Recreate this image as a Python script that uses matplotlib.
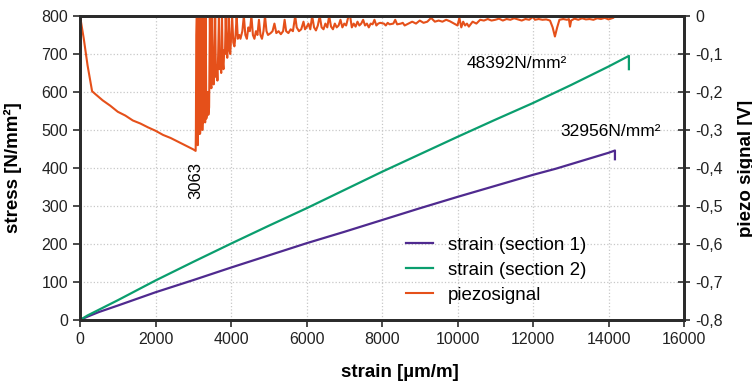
import matplotlib
matplotlib.use("Agg")
import matplotlib.pyplot as plt

plt.rcParams['font.family'] = ['Liberation Sans', 'DejaVu Sans']

# stress curves (strain in µm/m, stress in N/mm²)
strain_s1 = [0, 200, 500, 1000, 2000, 3000, 4000, 5000, 6000, 7000, 8000, 9000,
             10000, 11000, 12000, 12600, 13000, 14000, 14170, 14170]
stress_s1 = [0, 9, 21, 38, 73, 105, 138, 170, 202, 232, 263, 294,
             324, 353, 382, 398, 410, 440, 446, 423]

strain_s2 = [0, 200, 500, 1000, 2000, 3000, 4000, 5000, 6000, 7000, 8000, 9000,
             10000, 11000, 12000, 13000, 14000, 14540, 14540]
stress_s2 = [0, 12, 27, 52, 104, 153, 201, 248, 294, 342, 390, 436,
             482, 527, 571, 618, 667, 695, 660]

# piezo signal (V)
strain_pz = [0, 100, 200, 270, 320, 400, 600, 800, 1000, 1200, 1400, 1600, 1800,
             2000, 2200, 2400, 2600, 2800, 2900, 3000, 3063,
             3070, 3080, 3090, 3100, 3110, 3120, 3135, 3150, 3165, 3180, 3195, 3210,
             3225, 3240, 3255, 3270, 3285, 3300, 3315, 3330, 3345, 3360, 3380, 3400,
             3420, 3440, 3460, 3480, 3500, 3520, 3540, 3560, 3580, 3600, 3620, 3640,
             3660, 3680, 3700, 3720, 3740, 3760, 3780, 3800, 3820, 3840, 3860, 3880,
             3900, 3920, 3940, 3960, 3980, 4000, 4030, 4060, 4090, 4120, 4150, 4180,
             4220, 4250, 4300, 4340, 4380, 4420, 4460, 4500, 4540, 4580, 4620, 4660,
             4700, 4740, 4780, 4820, 4860, 4900, 4940, 4980, 5050, 5100, 5150, 5200,
             5260, 5320, 5380, 5420, 5460, 5520, 5580, 5640, 5700, 5740, 5800, 5860,
             5920, 5960, 6000, 6050, 6100, 6150, 6200, 6250, 6300, 6350, 6400, 6450,
             6500, 6550, 6600, 6650, 6700, 6750, 6800, 6850, 6900, 6950, 7000, 7050,
             7100, 7150, 7200, 7250, 7300, 7350, 7400, 7450, 7500, 7550, 7600, 7650,
             7700, 7750, 7800, 7850, 7900, 7950, 8050, 8100, 8150, 8200, 8300, 8350,
             8400, 8500, 8550, 8600, 8700, 8800, 8900, 9000, 9100, 9200, 9300, 9400,
             9500, 9600, 9700, 9800, 10000, 10050, 10100, 10150, 10200, 10250, 10300,
             10400, 10500, 10600, 10700, 10800, 10900, 11000, 11100, 11200, 11300,
             11400, 11500, 11600, 11700, 11800, 11900, 12000, 12050, 12150, 12250,
             12350, 12450, 12520, 12580, 12640, 12700, 12800, 12900, 12950, 12980,
             13010, 13100, 13200, 13300, 13400, 13500, 13600, 13700, 13800, 13900,
             14000, 14120]
piezo = [0.0, -0.06, -0.13, -0.17, -0.198, -0.205, -0.222, -0.236, -0.252, -0.262,
         -0.275, -0.283, -0.293, -0.302, -0.313, -0.321, -0.331, -0.341, -0.346,
         -0.351, -0.355,
         -0.30, -0.05, 0.0, 0.0, -0.33, -0.34, 0.0, -0.31, 0.0, -0.31, -0.28, 0.0,
         0.0, -0.30, -0.25, -0.28, 0.0, -0.22, -0.28, 0.0, -0.27, -0.26, -0.20, -0.26,
         -0.24, 0.0, -0.17, -0.19, 0.0, -0.12, -0.18, -0.15, 0.0, -0.16, -0.13, -0.17,
         -0.10, 0.0, -0.14, -0.11, -0.15, 0.0, -0.12, -0.14, -0.09, -0.10, 0.0, -0.08,
         -0.11, -0.07, 0.0, -0.09, -0.10, -0.06, 0.0, -0.07, -0.08, -0.05, 0.0, -0.06,
         -0.05, -0.06, -0.04, 0.0, -0.05, -0.06, -0.03, -0.04, 0.0, -0.05, -0.06, -0.04,
         -0.05, -0.01, -0.05, -0.06, -0.04, 0.0, -0.04, -0.05, -0.045, -0.04, -0.02, -0.045,
         -0.04, -0.048, -0.04, -0.01, -0.04, -0.045, -0.035, -0.04, 0.0, -0.03, -0.04, -0.035,
         -0.015, -0.035, -0.03, -0.02, -0.035, 0.0, -0.03, -0.038, -0.025, 0.0, -0.03, -0.035,
         -0.02, -0.03, 0.0, -0.028, -0.035, -0.02, -0.03, -0.025, -0.01, -0.03, -0.02, -0.025,
         -0.005, 0.003, -0.03, -0.02, -0.028, -0.015, -0.025, -0.02, -0.01, -0.025, -0.02, -0.03,
         -0.02, -0.022, -0.01, -0.025, -0.02, -0.018, -0.02, -0.025, -0.018, -0.022, -0.02, -0.01,
         -0.022, -0.02, -0.018, -0.025, -0.02, -0.015, -0.02, -0.012, -0.018, -0.015, -0.005, -0.015,
         -0.012, -0.015, -0.01, -0.014, -0.025, -0.005, -0.03, -0.015, -0.025, -0.02, -0.028,
         -0.015, -0.02, -0.01, -0.012, -0.008, -0.012, -0.01, -0.007, -0.012, -0.008,
         -0.01, -0.006, -0.009, -0.012, -0.008, -0.01, -0.002, -0.01, -0.008, -0.01,
         -0.009, -0.012, -0.03, -0.054, -0.03, -0.01, -0.008, -0.01, -0.008, -0.028,
         -0.012, -0.007, -0.01, -0.006, -0.009, -0.008, -0.01, -0.006, -0.008, -0.005,
         -0.009, -0.005]

x_ticks = [0, 2000, 4000, 6000, 8000, 10000, 12000, 14000, 16000]
y_ticks = [0, 100, 200, 300, 400, 500, 600, 700, 800]
v_ticks = [0, -0.1, -0.2, -0.3, -0.4, -0.5, -0.6, -0.7, -0.8]
v_labels = ['0', '-0,1', '-0,2', '-0,3', '-0,4', '-0,5', '-0,6', '-0,7', '-0,8']

c_s1 = '#4f2a8f'
c_s2 = '#0a9e6e'
c_pz = '#e5501a'
spine_c = '#2b2b2b'

fig, ax = plt.subplots(figsize=(7.52, 3.87), dpi=100)
fig.subplots_adjust(left=0.1064, right=0.9096, bottom=0.1731, top=0.9587)
ax2 = ax.twinx()

l1, = ax.plot(strain_s1, stress_s1, color=c_s1, lw=1.6, label='strain (section 1)')
l2, = ax.plot(strain_s2, stress_s2, color=c_s2, lw=1.6, label='strain (section 2)')
l3, = ax2.plot(strain_pz, piezo, color=c_pz, lw=1.5, label='piezosignal')

ax.set_xlim(0, 16000)
ax.set_ylim(0, 800)
ax2.set_ylim(-0.8, 0)
ax.set_xticks(x_ticks)
ax.set_yticks(y_ticks)
ax2.set_yticks(v_ticks)
ax2.set_yticklabels(v_labels)

ax.grid(True, ls=':', color='#c8c8c8', lw=0.9)
ax.set_axisbelow(True)

for a in (ax, ax2):
    for s in a.spines.values():
        s.set_linewidth(2)
        s.set_color(spine_c)
ax.tick_params(axis='both', direction='out', length=5, width=1.2, color=spine_c,
               labelsize=11.5, labelcolor='#222222')
ax2.tick_params(axis='y', direction='inout', length=9, width=1.2, color=spine_c,
                labelsize=11.5, labelcolor='#222222')

ax.set_xlabel('strain [µm/m]', fontsize=13.5, fontweight='bold')
ax.xaxis.set_label_coords(0.53, -0.145)
ax.set_ylabel('stress [N/mm²]', fontsize=13.5, fontweight='bold')
ax.yaxis.set_label_coords(-0.096, 0.5)
ax2.set_ylabel('piezo signal [V]', fontsize=13.5, fontweight='bold', rotation=90)
ax2.yaxis.set_label_coords(1.09, 0.5)

ax.text(3073, 416, '3063', rotation=90, ha='center', va='top', fontsize=12)
ax.text(10250, 676, '48392N/mm²', ha='left', va='center', fontsize=12.5)
ax.text(12730, 495, '32956N/mm²', ha='left', va='center', fontsize=12.5)

ax2.legend(handles=[l1, l2, l3], loc='center', bbox_to_anchor=(0.689, 0.164),
           frameon=False, fontsize=13.5, handlelength=1.4, handletextpad=0.8,
           labelspacing=0.42, borderpad=0.2)

fig.savefig('out.png', dpi=100)
